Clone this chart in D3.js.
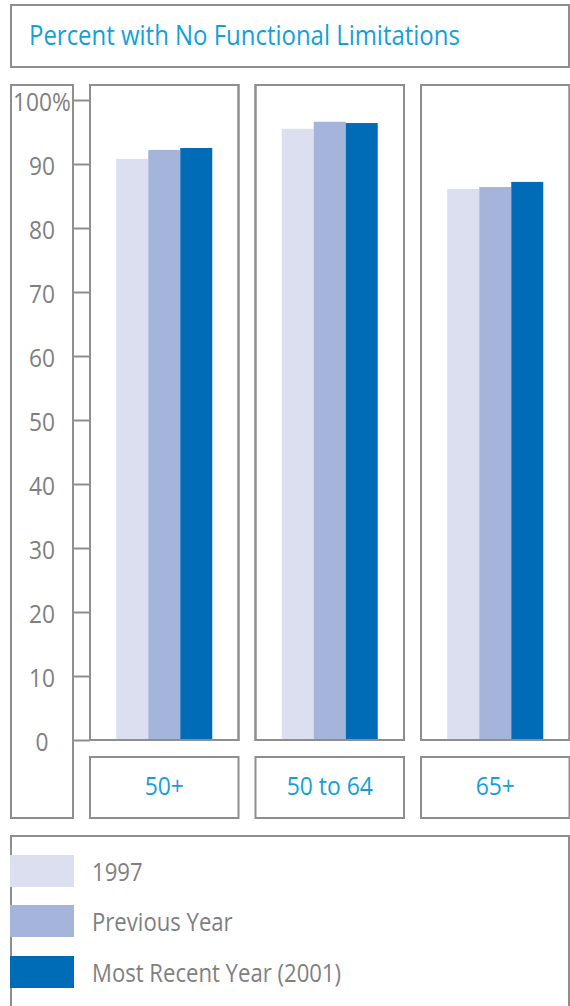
<!DOCTYPE html>
<html>
<head>
<meta charset="utf-8">
<script src="https://cdn.jsdelivr.net/npm/d3@7"></script>
<style>
  html, body { margin: 0; padding: 0; background: #fff; }
  svg { display: block; }
  text { font-family: "Open Sans", "Noto Sans", sans-serif; }
</style>
</head>
<body>
<svg id="chart" width="570" height="1006"></svg>
<script>
// Chart data
const title = "Percent with No Functional Limitations";
const groups = ["50+", "50 to 64", "65+"];
const seriesNames = ["1997", "Previous Year", "Most Recent Year (2001)"];
const values1997 = [90.8, 95.5, 86.1];
const valuesPrevious = [92.2, 96.6, 86.4];
const valuesRecent = [92.5, 96.4, 87.2];
const tickValues = [0, 10, 20, 30, 40, 50, 60, 70, 80, 90, 100];
const tickLabels = ["0", "10", "20", "30", "40", "50", "60", "70", "80", "90", "100%"];

const seriesValues = [values1997, valuesPrevious, valuesRecent];
const colors = ["#dcdff0", "#a4b4da", "#006bb6"];
const borderColor = "#8e8e8e";
const grayText = "#7f7f7f";
const blueText = "#12a0dc";

const svg = d3.select("#chart");

// Condensed text helper: horizontal squeeze around the anchor point
function addText(parent, str, x, y, opts) {
  return parent.append("text")
    .attr("transform", `translate(${x},${y}) scale(${opts.squeeze},1)`)
    .attr("text-anchor", opts.anchor || "start")
    .attr("font-size", opts.size)
    .attr("fill", opts.fill)
    .text(str);
}

function box(x0, y0, x1, y1) {
  svg.append("rect")
    .attr("x", x0).attr("y", y0)
    .attr("width", x1 - x0).attr("height", y1 - y0)
    .attr("fill", "#fff")
    .attr("stroke", borderColor)
    .attr("stroke-width", 2);
}

// Title box; the title is squeezed to fill its line
box(11, 5, 569, 67);
const titleText = addText(svg, title, 29, 45, { size: 28, fill: blueText, squeeze: 1 });
const natural = titleText.node().getComputedTextLength();
const titleSqueeze = 431 / natural;
titleText.attr("transform", `translate(29,45) scale(${titleSqueeze},1)`);

const tickSqueeze = 0.91;
const labelSqueeze = 0.915;
const legendSqueeze = 0.885;

// Scales
const y = d3.scaleLinear().domain([0, 100]).range([740, 100]);
const x = d3.scaleBand().domain(groups).range([90, 569.5]).paddingInner(0.1027);
const bw = x.bandwidth();
const xs = d3.scaleBand().domain(seriesNames).range([(bw - 96) / 2, (bw + 96) / 2]);

// Y axis box and ticks
box(11, 85, 73, 818);
const axis = d3.axisLeft(y).tickValues(tickValues).tickSize(17).tickFormat("");
const axisG = svg.append("g").attr("transform", "translate(90,0)").call(axis);
axisG.select(".domain").remove();
axisG.selectAll(".tick line").attr("stroke", borderColor).attr("stroke-width", 2);

tickValues.forEach((v, i) => {
  addText(svg, tickLabels[i], 42, y(v) + 10.5,
    { size: 25, fill: grayText, anchor: "middle", squeeze: tickSqueeze });
});

// Panels with bars
groups.forEach((g, gi) => {
  const px = x(g);
  box(px, 85, px + bw, 740);
  const panel = svg.append("g").attr("transform", `translate(${px},0)`);
  panel.selectAll("rect.bar")
    .data(seriesNames.map((s, si) => ({ s, v: seriesValues[si][gi], c: colors[si] })))
    .join("rect")
    .attr("class", "bar")
    .attr("x", d => xs(d.s))
    .attr("width", xs.bandwidth())
    .attr("y", d => y(d.v))
    .attr("height", d => y(0) - y(d.v))
    .attr("fill", d => d.c);
  // panel outline drawn above the bars
  svg.append("rect")
    .attr("x", px).attr("y", 85).attr("width", bw).attr("height", 655)
    .attr("fill", "none").attr("stroke", borderColor).attr("stroke-width", 2);

  // Category label box
  box(px, 757, px + bw, 818);
  addText(svg, g, px + bw / 2, 795,
    { size: 25, fill: blueText, anchor: "middle", squeeze: labelSqueeze });
});

// Legend
box(11, 836, 569, 1020);
const legendTop = [855, 905, 956];
seriesNames.forEach((s, i) => {
  svg.append("rect")
    .attr("x", 10).attr("y", legendTop[i])
    .attr("width", 64).attr("height", 32)
    .attr("fill", colors[i]);
  addText(svg, s, 92, legendTop[i] + 26,
    { size: 25, fill: grayText, squeeze: legendSqueeze });
});
</script>
</body>
</html>
